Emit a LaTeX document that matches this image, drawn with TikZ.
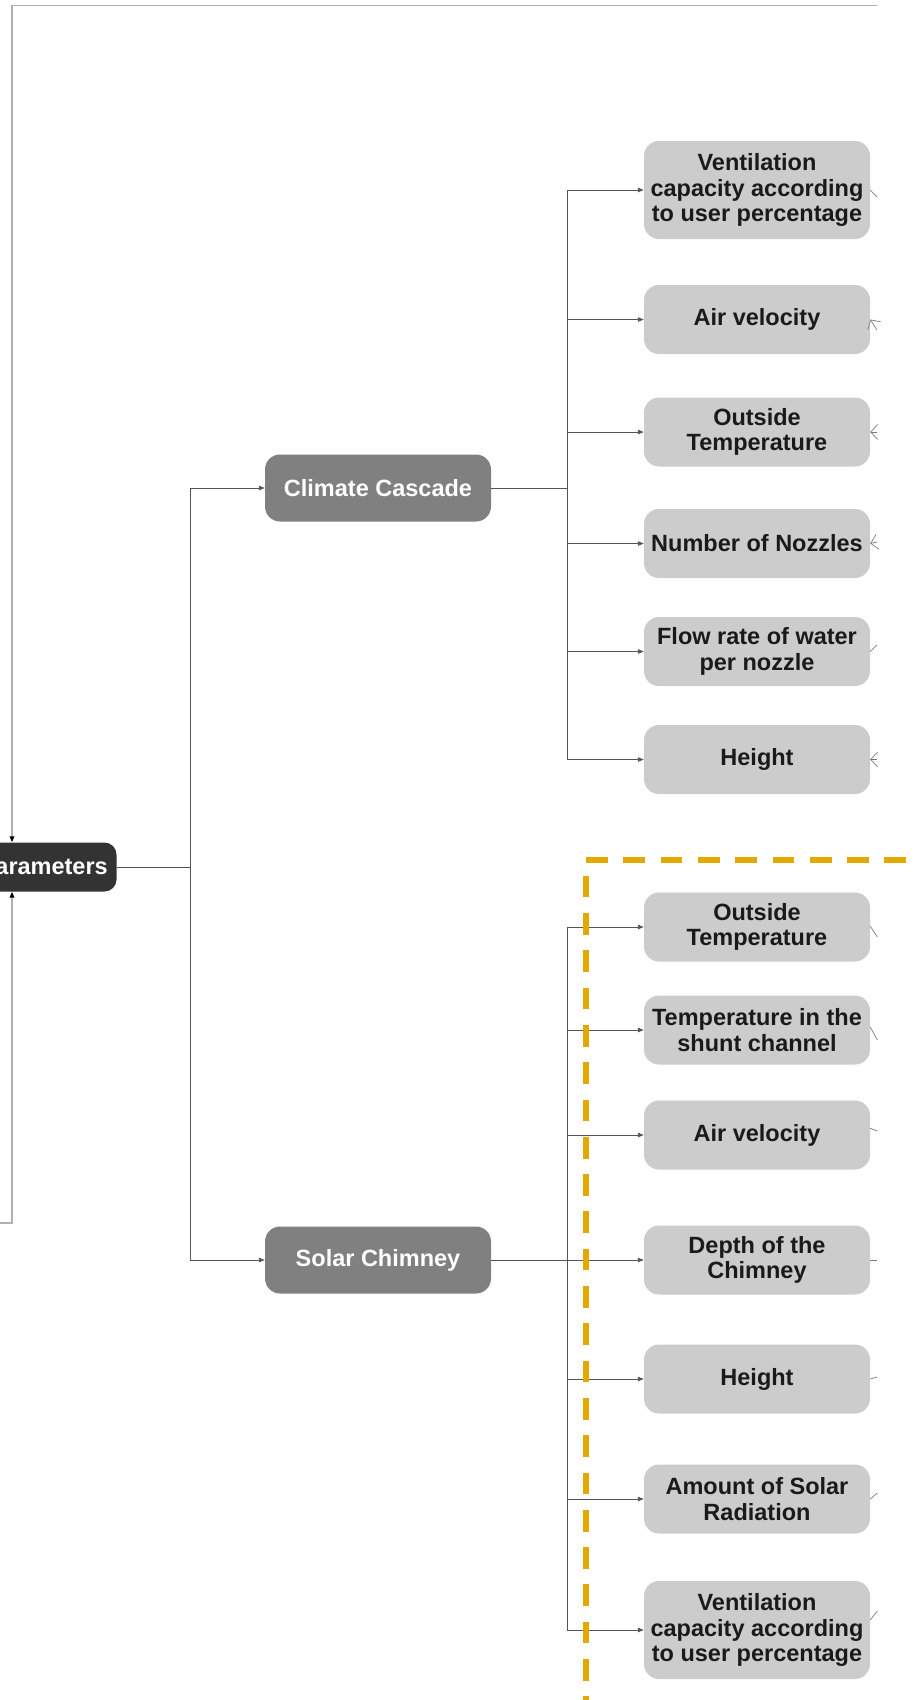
\documentclass[tikz,border=0pt]{standalone}
\usepackage{fontspec}
\setmainfont{Liberation Sans}
\usetikzlibrary{arrows.meta}
\definecolor{rootfill}{HTML}{333333}
\definecolor{midfill}{HTML}{808080}
\definecolor{leaffill}{HTML}{CCCCCC}
\definecolor{leaftext}{HTML}{1A1A1A}
\definecolor{linegray}{HTML}{555555}
\definecolor{feedgray}{HTML}{B0B0B0}
\definecolor{sidegray}{HTML}{7A7A7A}
\definecolor{marker}{HTML}{E2AA00}
\begin{document}
\begin{tikzpicture}[x=1pt,y=-1pt,
  boxfont/.style={font=\fontsize{23.5}{25.5}\selectfont\bfseries},
  leaf/.style={boxfont, fill=leaffill, text=leaftext, rounded corners=15pt,
    minimum width=226pt, minimum height=69pt, inner sep=0pt, align=center},
  tallleaf/.style={leaf, minimum height=98pt},
  branch/.style={boxfont, fill=midfill, text=white, rounded corners=15pt,
    minimum width=226pt, minimum height=67pt, inner sep=0pt},
  rootbox/.style={boxfont, fill=rootfill, text=white, rounded corners=12pt,
    minimum height=49pt, inner xsep=8.7pt, inner ysep=0pt},
  plain/.style={draw=linegray, line width=0.9pt},
  conn/.style={plain, -{Triangle[length=6pt,width=4.5pt]}},
  feed/.style={draw=feedgray, line width=1.5pt, -{Triangle[length=6pt,width=4.5pt,color=black]}},
  side/.style={draw=sidegray, line width=0.7pt},
  barb/.style={side, -{Straight Barb[length=7pt,width=15pt]}},
  marked/.style={draw=marker, line width=5.3pt, dash pattern=on 21.7pt off 15.6pt}
]
\useasboundingbox (0,0) rectangle (919,1700);
\clip (0,0) rectangle (919,1700);

% branch points and free ends
\coordinate (pin) at (12,0);
\coordinate (split) at (190.7,0);
\coordinate (trunk) at (567.3,0);
\coordinate (topR) at (877,5.3);
\coordinate (botL) at (-2,1223);

% root and the two systems
\node[rootbox, anchor=east] (par) at (116.7,867) {Parameters};
\node[branch] (cc) at (378,488) {Climate Cascade};
\node[branch] (sc) at (378,1260) {Solar Chimney};

% Climate Cascade parameters
\node[tallleaf] (cv) at (757,190) {Ventilation\\capacity according\\to user percentage};
\node[leaf] (ca) at (757,319.5) {Air velocity};
\node[leaf] (co) at (757,432) {Outside\\Temperature};
\node[leaf] (cn) at (757,543.5) {Number of Nozzles};
\node[leaf] (cf) at (757,651.5) {Flow rate of water\\per nozzle};
\node[leaf] (ch) at (757,759.5) {Height};

% Solar Chimney parameters
\node[leaf] (so) at (757,927) {Outside\\Temperature};
\node[leaf] (st) at (757,1030) {Temperature in the\\shunt channel};
\node[leaf] (sa) at (757,1135) {Air velocity};
\node[leaf] (sd) at (757,1260) {Depth of the\\Chimney};
\node[leaf] (sh) at (757,1379) {Height};
\node[leaf] (sr) at (757,1499) {Amount of Solar\\Radiation};
\node[tallleaf] (sv) at (757,1630) {Ventilation\\capacity according\\to user percentage};

% incoming feeds of the root
\draw[feed] (topR) -| (pin |- par.north);
\draw[feed] (botL) -| (pin |- par.south);

% root to systems
\draw[plain] (par.east) -- (par.east -| split);
\draw[conn] (par.east -| split) |- (cc.west);
\draw[conn] (par.east -| split) |- (sc.west);

% systems to their parameters
\draw[plain] (cc.east) -- (cc.east -| trunk);
\foreach \n in {cv,ca,co,cn,cf,ch}
  \draw[conn] (cc.east -| trunk) |- (\n.west);
\draw[plain] (sc.east) -- (sc.east -| trunk);
\foreach \n in {so,st,sa,sd,sh,sr,sv}
  \draw[conn] (sc.east -| trunk) |- (\n.west);

% links leaving to the right
\coordinate (e1) at (877,197);
\coordinate (e2) at (877,330);
\coordinate (e3) at (877,432);
\coordinate (e4) at (877,542);
\coordinate (e5) at (877,645);
\coordinate (e6) at (877,759.5);
\draw[side] (cv.east) -- (e1);
\draw[barb] (e2) -- (ca.east);
\draw[barb] (e3) -- (co.east);
\draw[barb] (e4) -- (cn.east);
\draw[side] (cf.east) -- (e5);
\draw[barb] (e6) -- (ch.east);

\coordinate (f1) at (877.3,937);
\coordinate (f2) at (877.3,1040);
\coordinate (f3) at (877.3,1131);
\coordinate (f4) at (877.3,1260);
\coordinate (f5) at (877.3,1377);
\coordinate (f6) at (877.3,1493);
\coordinate (f7) at (877.3,1611);
\draw[side] ([yshift=1pt]so.east) -- (f1);
\draw[side] ([yshift=3pt]st.east) -- (f2);
\draw[side] ([yshift=6.7pt]sa.east) -- (f3);
\draw[side] (sd.east) -- (f4);
\draw[side] (sh.east) -- (f5);
\draw[side] (sr.east) -- (f6);
\draw[side] ([yshift=10pt]sv.east) -- (f7);

% highlighted group
\coordinate (m1) at (586,860);
\coordinate (m2) at (906.3,860);
\coordinate (m3) at (586,875.7);
\coordinate (m4) at (586,1710);
\draw[marked] (m1) -- (m2);
\draw[marked] (m3) -- (m4);
\end{tikzpicture}
\end{document}
